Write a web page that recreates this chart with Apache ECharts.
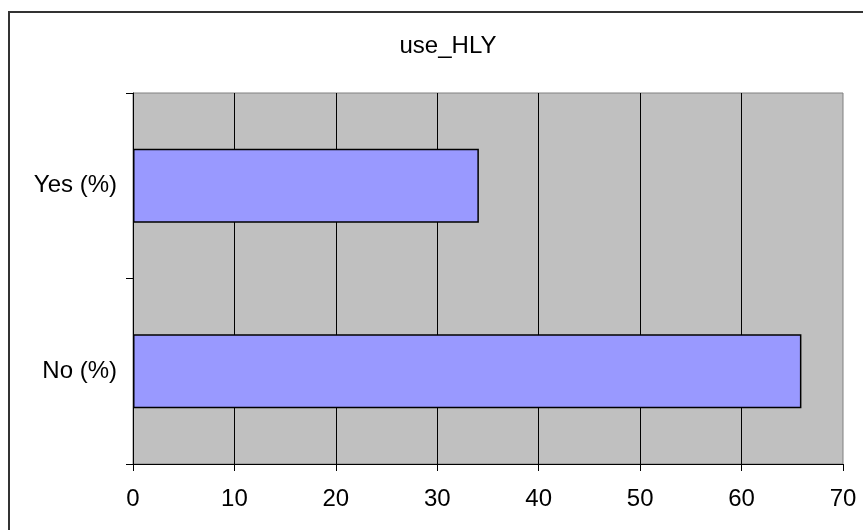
<!DOCTYPE html>
<html>
<head>
<meta charset="utf-8">
<script src="https://cdn.jsdelivr.net/npm/echarts@6/dist/echarts.min.js"></script>
<style>
html,body{margin:0;padding:0;background:#fff;}
#chart{width:863px;height:530px;}
</style>
</head>
<body>
<div id="chart"></div>
<script>
var titleText = 'use_HLY';
var categories = ['No (%)', 'Yes (%)'];
var values = [65.9, 34.1];
var xTicks = [0, 10, 20, 30, 40, 50, 60, 70];

var chart = echarts.init(document.getElementById('chart'), null, {renderer: 'canvas'});
var font = 'Arial, "Liberation Sans", sans-serif';
chart.setOption({
  animation: false,
  backgroundColor: '#fff',
  title: {
    text: titleText,
    left: 443,
    top: 29,
    textAlign: 'center',
    textStyle: {fontFamily: font, fontSize: 24, fontWeight: 'normal', color: '#000'}
  },
  graphic: [{
    type: 'rect',
    shape: {x: 9, y: 12, width: 880, height: 600},
    style: {fill: 'none', stroke: '#333', lineWidth: 2},
    silent: true
  }],
  grid: {
    left: 133, right: 20, top: 93, bottom: 66,
    show: true, backgroundColor: '#C0C0C0', borderColor: '#808080', borderWidth: 1
  },
  xAxis: {
    type: 'value',
    min: xTicks[0], max: xTicks[xTicks.length - 1], interval: 10,
    axisLine: {show: true, lineStyle: {color: '#000', width: 1}},
    axisTick: {show: true, length: 7, lineStyle: {color: '#000'}},
    axisLabel: {fontFamily: font, fontSize: 24, color: '#000', margin: 23},
    splitLine: {show: true, showMinLine: false, showMaxLine: false, lineStyle: {color: '#000', width: 1}}
  },
  yAxis: {
    type: 'category',
    data: categories,
    axisLine: {show: true, lineStyle: {color: '#000', width: 1}},
    axisTick: {show: true, length: 7, lineStyle: {color: '#000'}},
    axisLabel: {fontFamily: font, fontSize: 24, color: '#000', margin: 16},
    splitLine: {show: false}
  },
  series: [{
    type: 'bar',
    data: values,
    barCategoryGap: '60%',
    itemStyle: {color: '#9999FF', borderColor: '#000', borderWidth: 1.5}
  }]
});
</script>
</body>
</html>
